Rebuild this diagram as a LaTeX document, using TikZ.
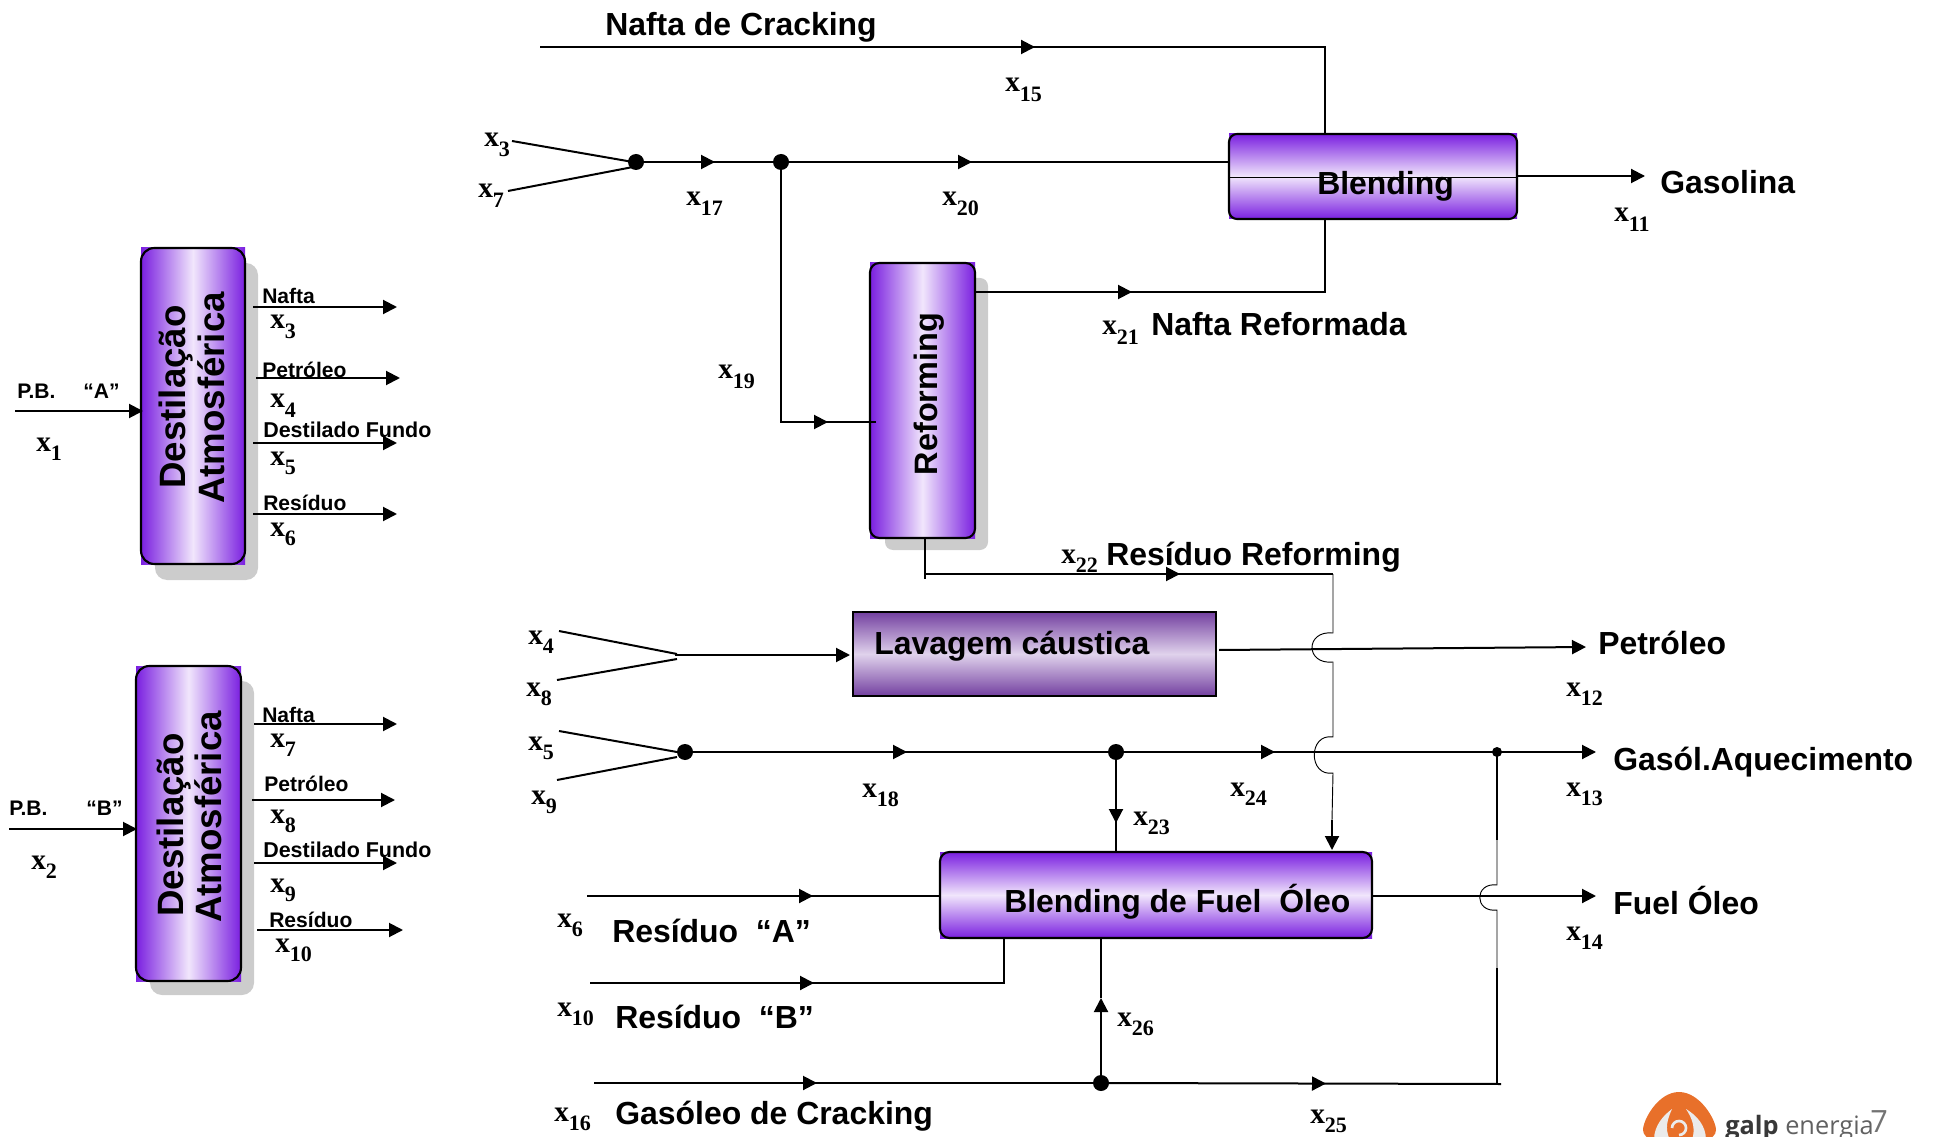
\documentclass[tikz,border=0pt]{standalone}
\usepackage{fontspec}
\setmainfont{Liberation Sans}
\newfontfamily\serb{Liberation Serif}
\newfontfamily\logofont{Open Sans}
\usetikzlibrary{arrows.meta,decorations.markings}
\definecolor{vivid}{HTML}{7A1FE0}
\definecolor{vividL}{HTML}{F1E6FC}
\definecolor{plum}{HTML}{7340A0}
\definecolor{plumL}{HTML}{E0D2EC}
\definecolor{shadowgray}{HTML}{CCCCCC}
\definecolor{galp}{HTML}{E8702A}
\tikzset{
  Tp/.tip={Triangle[length=10.5pt,width=10.5pt]},
  flow/.style={line width=1.5pt,draw=black},
  thinflow/.style={line width=0.7pt,draw=black},
  arrowflow/.style={flow,-{Tp}},
  tipat/.style={postaction={decorate},decoration={markings,mark=at position #1*0.75pt with {\arrow{Tp}}}},
  dot/.style={circle,fill=black,inner sep=0pt,minimum size=#1*0.75pt},
  dot/.default=16,
  size/.style 2 args={minimum width=#1*0.75pt,minimum height=#2*0.75pt},
  box/.style={rectangle,inner sep=0pt,outer sep=0pt},
  vbox/.style={box,left color=vivid,right color=vivid,middle color=vividL},
  hbox/.style={box,top color=vivid,bottom color=vivid,middle color=vividL},
  pbox/.style={box,top color=plum,bottom color=plum,middle color=plumL},
  outline/.style={line width=1.6pt,draw=black},
  big/.style={anchor=base west,inner sep=0pt,font=\fontsize{23.95}{26}\selectfont\bfseries},
  small/.style={anchor=base west,inner sep=0pt,font=\fontsize{15.8}{17}\selectfont\bfseries},
  rot/.style={inner sep=0pt,rotate=90,font=\fontsize{27.5}{30}\selectfont\bfseries},
  varlab/.style={anchor=base west,inner sep=0pt,font=\serb\fontsize{22}{24}\selectfont\bfseries},
}
\newcommand\varl[4]{\node[varlab] (#1) at (#2,#3) {x\raisebox{-0.33em}{\fontsize{16.5}{17}\selectfont #4}};}
\begin{document}
\begin{tikzpicture}[x=0.75pt,y=-0.75pt]
\useasboundingbox (0,0) rectangle (1935,1137);
% shadows
\fill[shadowgray,rounded corners=9pt] (155,263) rectangle (258,580);
\fill[shadowgray,rounded corners=9pt] (150,681) rectangle (254,995);
\fill[shadowgray,rounded corners=6pt] (885,278) rectangle (988,550);
% boxes
\node[vbox,size={104}{316}] (da) at (193,406) {};
\node[vbox,size={105}{315}] (db) at (188.5,823.5) {};
\node[vbox,size={105}{275}] (ref) at (922.5,400.5) {};
\node[hbox,size={288}{85}] (blend) at (1373,176.5) {};
\node[pbox,size={363}{84}] (lav) at (1034.5,654) {};
\node[hbox,size={432}{86}] (bfo) at (1156,895) {};
\draw[outline,rounded corners=10pt] (da.south west) rectangle (da.north east);
\draw[outline,rounded corners=10pt] (db.south west) rectangle (db.north east);
\draw[outline,rounded corners=7pt] (ref.south west) rectangle (ref.north east);
\draw[outline,rounded corners=6pt] (blend.south west) rectangle (blend.north east);
\draw[outline] (lav.south west) rectangle (lav.north east);
\draw[outline,rounded corners=7pt] (bfo.south west) rectangle (bfo.north east);
% junction dots
\node[dot] (d1) at (636,162) {};
\node[dot] (d2) at (781,162) {};
\node[dot] (d3) at (685,752) {};
\node[dot] (d4) at (1116,752) {};
\node[dot=10] (d5) at (1497,752) {};
\node[dot] (d6) at (1101,1083) {};
% coordinates
\coordinate (ncS) at (540,47);
\coordinate (ncC) at (1325,47);
\coordinate (y1a) at (512,141);
\coordinate (y1b) at (633,162);
\coordinate (y2a) at (508,191);
\coordinate (y2b) at (633,167);
\coordinate (r1) at (781,422);
\coordinate (r2) at (876,422);
\coordinate (rf1) at (975,292);
\coordinate (rf2) at (1325,292);
\coordinate (gas1) at (1517,176);
\coordinate (gas2) at (1645,176);
\coordinate (bl1) at (1229,177);
\coordinate (bl2) at (1517,177);
\coordinate (rb1) at (925,538);
\coordinate (rb2) at (925,579);
\coordinate (rb3) at (925,574);
\coordinate (rb4) at (1333,574);
\coordinate (v1) at (1333,633);
\coordinate (v2) at (1333,662);
\coordinate (v3) at (1333,737);
\coordinate (v4) at (1333,773);
\coordinate (v5) at (1332,820);
\coordinate (v6) at (1332,850);
\coordinate (p1) at (1219,650);
\coordinate (p2) at (1586,647);
\coordinate (l1a) at (559,631);
\coordinate (l1b) at (677,654);
\coordinate (l2a) at (557,680);
\coordinate (l2b) at (677,659);
\coordinate (l3) at (675,655);
\coordinate (l4) at (850,655);
\coordinate (g1a) at (559,731);
\coordinate (g1b) at (677,752);
\coordinate (g2a) at (557,780);
\coordinate (g2b) at (677,757);
\coordinate (g3) at (1596,752);
\coordinate (e1) at (1116,853);
\coordinate (w1) at (1497,840);
\coordinate (w2) at (1497,885);
\coordinate (w3) at (1497,910);
\coordinate (w4) at (1497,968);
\coordinate (w5) at (1497,1084);
\coordinate (w6) at (1501,1084);
\coordinate (bo1) at (1372,896);
\coordinate (bo2) at (1596,896);
\coordinate (b6) at (587,896);
\coordinate (b10) at (590,983);
\coordinate (b10c) at (1004,983);
\coordinate (gc) at (594,1083);
\coordinate (up) at (1101,998);
% top part connectors
\draw[flow,tipat=495] (ncS) -- (ncC) -- (blend.north -| ncC);
\draw[flow] (y1a) -- (y1b);
\draw[flow] (y2a) -- (y2b);
\draw[flow,tipat=79] (d1.center) -- (d2.center);
\draw[flow,tipat=191] (d2.center) -- (blend.west |- d2);
\draw[flow,tipat=307] (d2.center) -- (r1) -- (r2);
\draw[flow,tipat=157] (rf1) -- (rf2) -- (blend.south -| rf2);
\draw[arrowflow] (gas1) -- (gas2);
\draw[thinflow] (bl1) -- (bl2);
\draw[flow] (rb1) -- (rb2);
\draw[flow,tipat=255] (rb3) -- (rb4);
\draw[thinflow] (rb4) -- (v1) .. controls (1305,630) and (1305,665) .. (v2) -- (v3)
  .. controls (1308,733) and (1308,777) .. (v4) -- (v5);
\draw[arrowflow] (v5) -- (v6);
% Lavagem
\draw[arrowflow] (p1) -- (p2);
\draw[flow] (l1a) -- (l1b);
\draw[flow] (l2a) -- (l2b);
\draw[arrowflow] (l3) -- (l4);
% Gasoleo line
\draw[flow] (g1a) -- (g1b);
\draw[flow] (g2a) -- (g2b);
\draw[flow,tipat=222] (d3.center) -- (d4.center);
\draw[flow,tipat=159] (d4.center) -- (d5.center);
\draw[arrowflow] (d5.center) -- (g3);
\draw[flow,tipat=71] (d4.center) -- (e1);
\draw[flow] (d5.center) -- (w1);
\draw[thinflow] (w1) -- (w2) .. controls (1474,882) and (1474,913) .. (w3) -- (w4);
\draw[flow] (w4) -- (w5);
% Blending de fuel oleo
\draw[arrowflow] (bo1) -- (bo2);
\draw[flow,tipat=226] (b6) -- (bfo.west |- b6);
\draw[flow,tipat=224] (b10) -- (b10c) -- (bfo.south -| b10c);
\draw[flow,tipat=223] (gc) -- (d6.center);
\draw[flow,tipat=225] (d6.center) -- (w6);
\draw[flow] (bfo.south -| up) -- (up);
\draw[arrowflow] (d6.center) -- (up);
% left column A
\coordinate (ia1) at (15,411); \coordinate (ia2) at (143,411);
\draw[arrowflow] (ia1) -- (ia2);
\coordinate (oa1) at (253,307); \coordinate (oa1e) at (397,307);
\coordinate (oa2) at (256,378); \coordinate (oa2e) at (400,378);
\coordinate (oa3) at (253,443); \coordinate (oa3e) at (397,443);
\coordinate (oa4) at (253,514); \coordinate (oa4e) at (397,514);
\draw[arrowflow] (oa1) -- (oa1e);
\draw[arrowflow] (oa2) -- (oa2e);
\draw[arrowflow] (oa3) -- (oa3e);
\draw[arrowflow] (oa4) -- (oa4e);
% left column B
\coordinate (ib1) at (9,829); \coordinate (ib2) at (137,829);
\draw[arrowflow] (ib1) -- (ib2);
\coordinate (ob1) at (254,724); \coordinate (ob1e) at (397,724);
\coordinate (ob2) at (252,800); \coordinate (ob2e) at (395,800);
\coordinate (ob3) at (254,863); \coordinate (ob3e) at (397,863);
\coordinate (ob4) at (257,930); \coordinate (ob4e) at (403,930);
\draw[arrowflow] (ob1) -- (ob1e);
\draw[arrowflow] (ob2) -- (ob2e);
\draw[arrowflow] (ob3) -- (ob3e);
\draw[arrowflow] (ob4) -- (ob4e);
% box texts
\node[rot] (t1) at (176,397) {Destilação};
\node[rot] (t2) at (211,398) {Atmosférica};
\node[rot] (t3) at (174,825) {Destilação};
\node[rot] (t4) at (208,817) {Atmosférica};
\node[rot,font=\fontsize{24.3}{26}\selectfont\bfseries] (t5) at (929,394) {Reforming};
\node[big] (t6) at (1317,195) {Blending};
\node[big] (t7) at (874,654) {Lavagem cáustica};
\node[big] (t8) at (1004,912) {Blending de Fuel\ \ Óleo};
% big texts
\node[big] (n1) at (605,36) {Nafta de Cracking};
\node[big] (n2) at (1660,194) {Gasolina};
\node[big] (n3) at (1151,336) {Nafta Reformada};
\node[big] (n4) at (1106,565) {Resíduo Reforming};
\node[big] (n5) at (1598,654) {Petróleo};
\node[big] (n6) at (1613,770) {Gasól.Aquecimento};
\node[big] (n7) at (1613,914) {Fuel Óleo};
\node[big] (n8) at (612,942) {Resíduo\ \ “A”};
\node[big] (n9) at (615,1028) {Resíduo\ \ “B”};
\node[big] (n10) at (615,1124) {Gasóleo de Cracking};
% small texts
\node[small] (s1) at (17,399) {P.B.};
\node[small] (s2) at (83,399) {“A”};
\node[small] (s3) at (262,304) {Nafta};
\node[small] (s4) at (262,378) {Petróleo};
\node[small,font=\fontsize{16.1}{17}\selectfont\bfseries] (s5) at (263,437) {Destilado Fundo};
\node[small] (s6) at (263,510) {Resíduo};
\node[small] (s7) at (9,815) {P.B.};
\node[small] (s8) at (86,815) {“B”};
\node[small] (s9) at (262,722) {Nafta};
\node[small] (s10) at (264,791) {Petróleo};
\node[small,font=\fontsize{16.1}{17}\selectfont\bfseries] (s11) at (263,857) {Destilado Fundo};
\node[small] (s12) at (269,927) {Resíduo};
% variable labels
\varl{x1}{36}{451}{1}
\varl{x3a}{270}{329}{3}
\varl{x4a}{270}{408}{4}
\varl{x5a}{270}{465}{5}
\varl{x6a}{270}{536}{6}
\varl{x2}{31}{869}{2}
\varl{x7a}{270}{747}{7}
\varl{x8a}{270}{823}{8}
\varl{x9a}{270}{892}{9}
\varl{x10a}{275}{952}{10}
\varl{x15}{1005}{92}{15}
\varl{x3b}{484}{147}{3}
\varl{x7b}{478}{198}{7}
\varl{x17}{686}{206}{17}
\varl{x19}{718}{379}{19}
\varl{x20}{942}{206}{20}
\varl{x21}{1102}{335}{21}
\varl{x11}{1614}{222}{11}
\varl{x22}{1061}{563}{22}
\varl{x4b}{528}{644}{4}
\varl{x8b}{526}{696}{8}
\varl{x5b}{528}{750}{5}
\varl{x9b}{531}{804}{9}
\varl{x18}{862}{797}{18}
\varl{x24}{1230}{796}{24}
\varl{x23}{1133}{825}{23}
\varl{x12}{1566}{696}{12}
\varl{x13}{1566}{796}{13}
\varl{x14}{1566}{940}{14}
\varl{x6b}{557}{927}{6}
\varl{x10b}{557}{1016}{10}
\varl{x16}{554}{1121}{16}
\varl{x26}{1117}{1026}{26}
\varl{x25}{1310}{1123}{25}
% logo
\fill[galp] (1679,1092) .. controls (1700,1092) and (1716,1120) .. (1716,1130)
  .. controls (1716,1150) and (1643,1150) .. (1643,1130)
  .. controls (1643,1120) and (1658,1092) .. (1679,1092) -- cycle;
\fill[white!92!black] (1672,1109) .. controls (1664,1115) and (1654,1125) .. (1654,1140)
  -- (1670,1140) .. controls (1664,1128) and (1668,1118) .. (1672,1109) -- cycle;
\fill[white!92!black] (1686,1109) .. controls (1696,1115) and (1706,1125) .. (1706,1140)
  -- (1692,1140) .. controls (1696,1128) and (1692,1118) .. (1686,1109) -- cycle;
\draw[white!92!black,line width=2pt] (1672,1128) arc (180:-90:5.25pt);
\node[anchor=base west,inner sep=0pt,text=black!78,font=\logofont\bfseries\fontsize{19}{20}\selectfont] (lg1) at (1725,1134) {galp};
\node[anchor=base west,inner sep=0pt,text=black!62,font=\logofont\fontsize{19}{20}\selectfont] (lg2) at (1785,1134) {energia};
\node[anchor=base west,inner sep=0pt,text=black!55,font=\logofont\fontsize{23}{24}\selectfont] (lg3) at (1870,1132) {7};
\end{tikzpicture}
\end{document}
